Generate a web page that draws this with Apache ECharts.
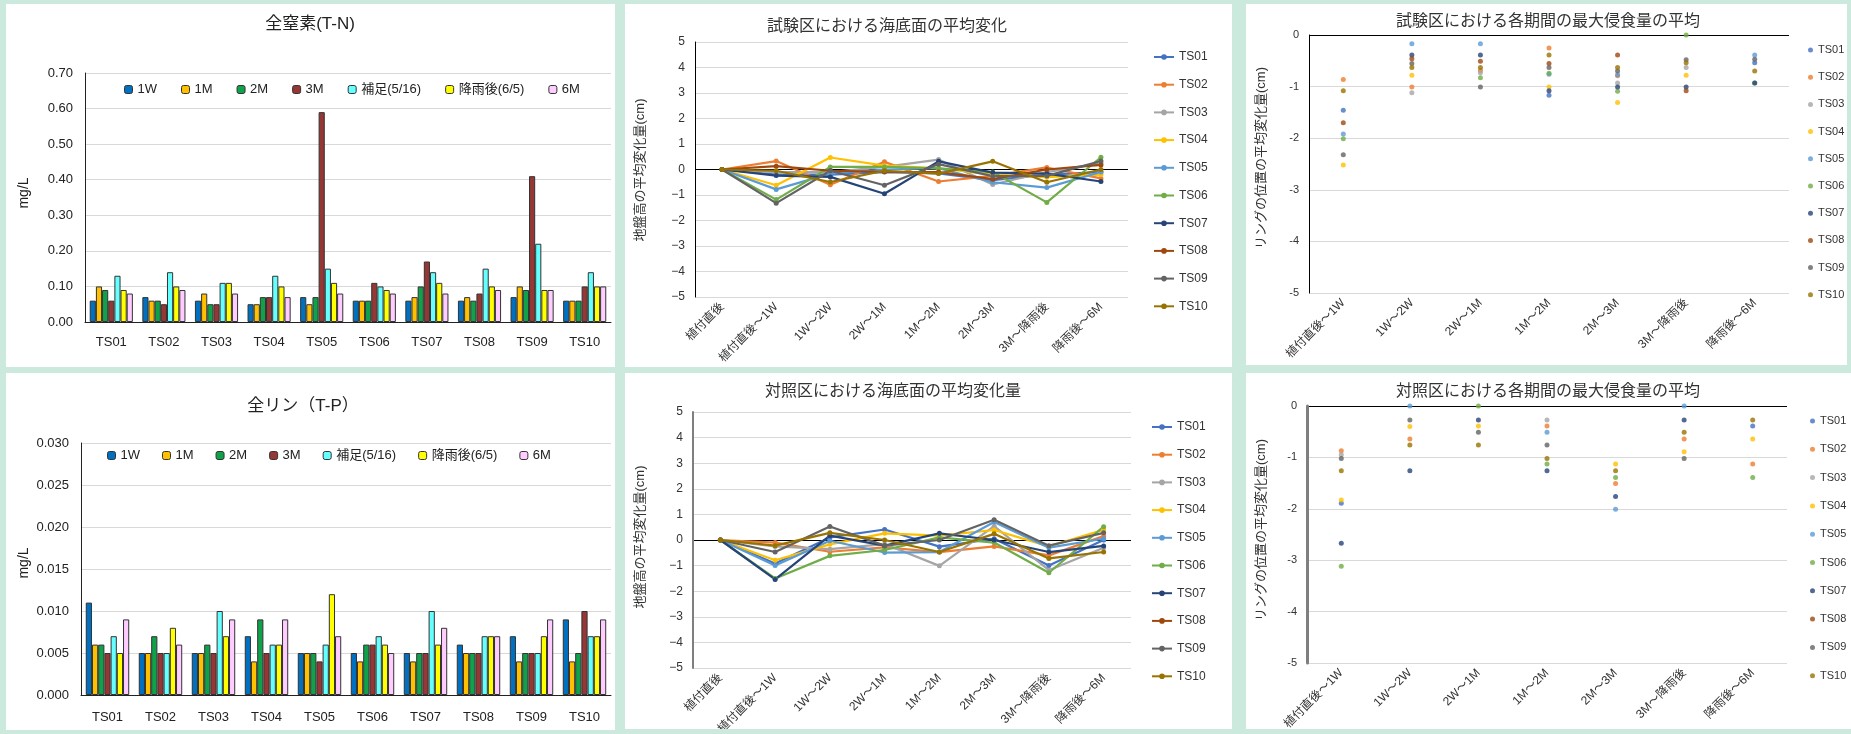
<!DOCTYPE html>
<html>
<head>
<meta charset="utf-8">
<script src="https://cdn.jsdelivr.net/npm/echarts@6/dist/echarts.min.js"></script>
<style>
html, body { margin: 0; padding: 0; width: 1851px; height: 734px; overflow: hidden; background: #cbeadd; }
.panel { position: absolute; background: #ffffff; }
</style>
</head>
<body>
<div id="p1" class="panel" style="left:6px;top:4px;width:609px;height:363px"></div>
<div id="p2" class="panel" style="left:625px;top:4px;width:607px;height:363px"></div>
<div id="p3" class="panel" style="left:1246px;top:4px;width:601px;height:361px"></div>
<div id="p4" class="panel" style="left:6px;top:373px;width:609px;height:357px"></div>
<div id="p5" class="panel" style="left:625px;top:373px;width:607px;height:356px"></div>
<div id="p6" class="panel" style="left:1246px;top:373px;width:605px;height:356px"></div>
<script>
// ---- shared labels ----
const stations = ['TS01', 'TS02', 'TS03', 'TS04', 'TS05', 'TS06', 'TS07', 'TS08', 'TS09', 'TS10'];
const periods = ['1W', '1M', '2M', '3M', '補足(5/16)', '降雨後(6/5)', '6M'];
const levelCats = ['植付直後', '植付直後～1W', '1W～2W', '2W～1M', '1M～2M', '2M～3M', '3M～降雨後', '降雨後～6M'];
const erosionCats = ['植付直後～1W', '1W～2W', '2W～1M', '1M～2M', '2M～3M', '3M～降雨後', '降雨後～6M'];

// ---- total nitrogen (mg/L), one row per sampling period, columns TS01..TS10 ----
const tn1W   = [0.06, 0.07, 0.06, 0.05, 0.07, 0.06, 0.06, 0.06, 0.07, 0.06];
const tn1M   = [0.10, 0.06, 0.08, 0.05, 0.05, 0.06, 0.07, 0.07, 0.10, 0.06];
const tn2M   = [0.09, 0.06, 0.05, 0.07, 0.07, 0.06, 0.10, 0.06, 0.09, 0.06];
const tn3M   = [0.06, 0.05, 0.05, 0.07, 0.59, 0.11, 0.17, 0.08, 0.41, 0.10];
const tnSupp = [0.13, 0.14, 0.11, 0.13, 0.15, 0.10, 0.14, 0.15, 0.22, 0.14];
const tnRain = [0.09, 0.10, 0.11, 0.10, 0.11, 0.09, 0.11, 0.10, 0.09, 0.10];
const tn6M   = [0.08, 0.09, 0.08, 0.07, 0.08, 0.08, 0.08, 0.09, 0.09, 0.10];

// ---- total phosphorus (mg/L) ----
const tp1W   = [0.011, 0.005, 0.005, 0.007, 0.005, 0.005, 0.005, 0.006, 0.007, 0.009];
const tp1M   = [0.006, 0.005, 0.005, 0.004, 0.005, 0.004, 0.004, 0.005, 0.004, 0.004];
const tp2M   = [0.006, 0.007, 0.006, 0.009, 0.005, 0.006, 0.005, 0.005, 0.005, 0.005];
const tp3M   = [0.005, 0.005, 0.005, 0.005, 0.004, 0.006, 0.005, 0.005, 0.005, 0.010];
const tpSupp = [0.007, 0.005, 0.010, 0.006, 0.006, 0.007, 0.010, 0.007, 0.005, 0.007];
const tpRain = [0.005, 0.008, 0.007, 0.006, 0.012, 0.006, 0.006, 0.007, 0.007, 0.007];
const tp6M   = [0.009, 0.006, 0.009, 0.009, 0.007, 0.005, 0.008, 0.007, 0.009, 0.009];

// ---- mean seabed level change (cm), rows TS01..TS10 ----
const levelTest = [
  [0, -0.20, -0.20, -0.10, -0.15, -0.42, -0.20, -0.10],
  [0,  0.33, -0.60,  0.30, -0.47, -0.25,  0.08, -0.35],
  [0, -0.10, -0.10,  0.10,  0.39, -0.59, -0.10,  0.25],
  [0, -0.62,  0.47,  0.15,  0.05, -0.20, -0.30, -0.20],
  [0, -0.78, -0.16,  0.00,  0.05, -0.50, -0.71, -0.10],
  [0, -1.18,  0.10,  0.10,  0.05, -0.10, -1.29,  0.48],
  [0, -0.24, -0.29, -0.95,  0.32, -0.12, -0.16, -0.47],
  [0,  0.13, -0.05, -0.09, -0.10, -0.38,  0.00,  0.18],
  [0, -1.32, -0.05, -0.62,  0.21, -0.26, -0.25,  0.33],
  [0, -0.05, -0.49, -0.05, -0.16,  0.32, -0.50,  0.00]
];
const levelControl = [
  [0, -0.92,  0.10,  0.41, -0.26,  0.05, -1.00,  0.00],
  [0, -0.10, -0.46, -0.29, -0.47, -0.25, -0.60,  0.15],
  [0, -0.25, -0.36, -0.16, -1.01,  0.54, -1.18, -0.30],
  [0, -0.79, -0.17,  0.26,  0.17,  0.39, -0.25,  0.40],
  [0, -1.00, -0.03, -0.49, -0.47,  0.70, -0.30,  0.05],
  [0, -1.50, -0.62, -0.39,  0.10, -0.10, -1.28,  0.52],
  [0, -1.54,  0.17, -0.22,  0.26,  0.00, -0.47, -0.23],
  [null, null, null, null, null, null, null, null],
  [0, -0.47,  0.53, -0.22,  0.00,  0.79, -0.22,  0.28],
  [0, -0.22,  0.28,  0.00, -0.47,  0.24, -0.72, -0.47]
];

// ---- mean maximum erosion per period (cm), rows TS01..TS10 ----
const erosionTest = [
  [-1.46, null,  null,  -1.17, null,  null,  -0.54],
  [-0.86, -1.01, -0.69, -0.25, -0.79, null,  null],
  [null,  -1.12, -0.73, null,  -0.93, -0.63, null],
  [-2.52, -0.78, null,  -1.01, -1.31, -0.78, null],
  [-1.92, -0.17, -0.17, -0.76, -0.77, null,  -0.39],
  [-2.01, null,  -0.83, -0.74, -1.09, 0,     -0.93],
  [null,  -0.39, -0.39, -1.08, -1.01, -1.01, -0.93],
  [-1.70, -0.46, -0.51, -0.55, -0.39, -1.08, null],
  [-2.32, -0.55, -1.01, -0.63, -0.70, -0.48, -0.47],
  [-1.08, -0.63, -0.63, -0.39, -0.63, -0.54, -0.70]
];
const erosionControl = [
  [-1.89, null,  null,  null,  null,  null,  -0.39],
  [-0.87, -0.64, null,  -0.39, -1.51, -0.64, -1.13],
  [-0.95, null,  null,  -0.27, null,  null,  null],
  [-1.83, -0.40, -0.39, null,  -1.13, -0.89, -0.64],
  [null,  0,     null,  -0.51, -2.01, 0,     null],
  [-3.12, null,  0,     -1.13, -1.39, null,  -1.39],
  [-2.67, -1.26, -0.27, -1.26, -1.76, -0.27, null],
  [null,  null,  null,  null,  null,  null,  null],
  [-1.02, -0.27, -0.51, -0.76, null,  -1.02, null],
  [-1.26, -0.76, -0.76, -1.02, -1.26, -0.51, -0.27]
];

// ---- styling ----
const FONT = "'Liberation Sans', 'Noto Sans CJK JP', sans-serif";
const barColors = ['#0070C0', '#FFC000', '#0FA24A', '#953735', '#66FFFF', '#FFFF00', '#FFCCFF'];
const stationColors = ['#4472C4', '#ED7D31', '#A5A5A5', '#FFC000', '#5B9BD5', '#70AD47', '#264478', '#9E480E', '#636363', '#997300'];
const GRID_GREY = '#d9d9d9';

function headText(text, x, y, size, color) {
  return { type: 'text', x: x, y: y, silent: true,
    style: { text: text, textAlign: 'center', textVerticalAlign: 'middle',
      font: 'normal ' + size + 'px ' + FONT, fill: color } };
}
function sideText(text, x, y, size, color) {
  return { type: 'text', x: x, y: y, rotation: Math.PI / 2, silent: true,
    style: { text: text, textAlign: 'center', textVerticalAlign: 'middle',
      font: 'normal ' + size + 'px ' + FONT, fill: color } };
}
// split line colours, with the zero line drawn dark
function splitColors(count, zeroIndex) {
  const arr = [];
  for (let i = 0; i < count; i++) arr.push(i === zeroIndex ? '#000000' : GRID_GREY);
  return arr;
}
const minusSign = v => String(v).replace('-', '−');

function barOption(cfg) {
  return {
    animation: false,
    textStyle: { fontFamily: FONT },
    graphic: [headText(cfg.title, cfg.titleX, cfg.titleY, 17, '#222'),
              sideText('mg/L', cfg.nameX, cfg.nameY, 14, '#222')],
    legend: {
      data: periods, left: cfg.legendLeft, top: cfg.legendTop, padding: 0,
      itemWidth: 8, itemHeight: 8, itemGap: cfg.legendGap,
      itemStyle: { borderColor: '#333', borderWidth: 1 },
      textStyle: { fontSize: 13, color: '#222', fontFamily: FONT }
    },
    grid: Object.assign({ outerBoundsMode: 'none', containLabel: false }, cfg.grid),
    xAxis: {
      type: 'category', data: stations,
      axisLine: { lineStyle: { color: '#222', width: 1 } },
      axisTick: { show: false },
      axisLabel: { fontSize: 13, color: '#222', margin: cfg.xMargin, fontFamily: FONT }
    },
    yAxis: {
      type: 'value', min: 0, max: cfg.max, interval: cfg.step,
      axisLine: { show: true, lineStyle: { color: '#222', width: 1 } },
      axisTick: { show: false },
      axisLabel: { fontSize: 13, color: '#222', margin: 12, fontFamily: FONT,
        formatter: v => v.toFixed(cfg.digits) },
      splitLine: { lineStyle: { color: GRID_GREY } }
    },
    series: cfg.values.map((vals, i) => ({
      name: periods[i], type: 'bar', data: vals,
      barGap: '0%', barCategoryGap: '18%',
      itemStyle: { color: barColors[i], borderColor: '#333', borderWidth: 1 }
    }))
  };
}

function lineOption(cfg) {
  return {
    animation: false,
    textStyle: { fontFamily: FONT },
    graphic: [headText(cfg.title, cfg.titleX, cfg.titleY, 16, '#333'),
              sideText('地盤高の平均変化量(cm)', cfg.nameX, cfg.nameY, 13, '#333')],
    legend: {
      data: stations, orient: 'vertical', left: cfg.legendLeft, top: cfg.legendTop, padding: 0,
      itemWidth: 20, itemHeight: 7, itemGap: cfg.legendGap,
      textStyle: { fontSize: 12, color: '#333', lineHeight: 14, fontFamily: FONT }
    },
    grid: Object.assign({ outerBoundsMode: 'none', containLabel: false }, cfg.grid),
    xAxis: {
      type: 'category', data: levelCats, boundaryGap: true,
      axisLine: { show: false, onZero: false },
      axisTick: { show: false },
      axisLabel: { rotate: 45, interval: 0, fontSize: 12, color: '#333', margin: 8, fontFamily: FONT }
    },
    yAxis: {
      type: 'value', min: -5, max: 5, interval: 1,
      axisLine: { show: true, lineStyle: { color: cfg.axisColor, width: cfg.axisWidth } },
      axisTick: { show: false },
      axisLabel: { fontSize: 12, color: '#333', margin: 10, formatter: minusSign, fontFamily: FONT },
      splitLine: { lineStyle: { color: splitColors(11, 5) } }
    },
    series: cfg.rows.map((row, i) => ({
      name: stations[i], type: 'line', data: row,
      symbol: 'circle', symbolSize: 5,
      lineStyle: { width: 2.2, color: stationColors[i] },
      itemStyle: { color: stationColors[i] }
    }))
  };
}

function scatterOption(cfg) {
  return {
    animation: false,
    textStyle: { fontFamily: FONT },
    graphic: [headText(cfg.title, cfg.titleX, cfg.titleY, 16, '#333'),
              sideText('リングの位置の平均変化量(cm)', cfg.nameX, cfg.nameY, 13, '#333')],
    legend: {
      data: stations, orient: 'vertical', left: cfg.legendLeft, top: cfg.legendTop, padding: 0,
      icon: 'circle', itemWidth: 5, itemHeight: 5, itemGap: cfg.legendGap,
      textStyle: { fontSize: 11, color: '#333', lineHeight: 14, fontFamily: FONT }
    },
    grid: Object.assign({ outerBoundsMode: 'none', containLabel: false }, cfg.grid),
    xAxis: {
      type: 'category', data: erosionCats, boundaryGap: true,
      axisLine: { show: false, onZero: false },
      axisTick: { show: false },
      axisLabel: { rotate: 45, interval: 0, fontSize: 12, color: '#333', margin: 8, fontFamily: FONT }
    },
    yAxis: {
      type: 'value', min: -5, max: 0, interval: 1,
      axisLine: { show: true, lineStyle: { color: cfg.axisColor, width: cfg.axisWidth } },
      axisTick: { show: false },
      axisLabel: { fontSize: 11, color: '#333', margin: 10, fontFamily: FONT },
      splitLine: { lineStyle: { color: splitColors(6, 5) } }
    },
    series: cfg.rows.map((row, i) => ({
      name: stations[i], type: 'scatter', data: row,
      symbol: 'circle', symbolSize: 5,
      itemStyle: { color: stationColors[i] }
    }))
  };
}

function mount(id, option) {
  const chart = echarts.init(document.getElementById(id), null, { renderer: 'canvas' });
  chart.setOption(option);
}

mount('p1', barOption({
  title: '全窒素(T-N)', titleX: 304, titleY: 20, nameX: 18, nameY: 189,
  values: [tn1W, tn1M, tn2M, tn3M, tnSupp, tnRain, tn6M],
  max: 0.7, step: 0.1, digits: 2,
  grid: { left: 79, right: 4, top: 69, bottom: 45 },
  legendLeft: 118, legendTop: 79, legendGap: 24, xMargin: 14
}));

mount('p4', barOption({
  title: '全リン（T-P）', titleX: 297, titleY: 33, nameX: 18, nameY: 190,
  values: [tp1W, tp1M, tp2M, tp3M, tpSupp, tpRain, tp6M],
  max: 0.03, step: 0.005, digits: 3,
  grid: { left: 75, right: 4, top: 70, bottom: 35 },
  legendLeft: 101, legendTop: 76, legendGap: 22, xMargin: 16
}));

mount('p2', lineOption({
  title: '試験区における海底面の平均変化', titleX: 262, titleY: 23, nameX: 15, nameY: 166,
  rows: levelTest, axisColor: '#000000', axisWidth: 1,
  grid: { left: 70, right: 104, top: 38, bottom: 70 },
  legendLeft: 528, legendTop: 46, legendGap: 13.7
}));

mount('p5', lineOption({
  title: '対照区における海底面の平均変化量', titleX: 268, titleY: 19, nameX: 15, nameY: 164,
  rows: levelControl, axisColor: '#7f7f7f', axisWidth: 2,
  grid: { left: 68, right: 101, top: 39, bottom: 61 },
  legendLeft: 526, legendTop: 47, legendGap: 13.7
}));

mount('p3', scatterOption({
  title: '試験区における各期間の最大侵食量の平均', titleX: 302, titleY: 18, nameX: 15, nameY: 154,
  rows: erosionTest, axisColor: '#000000', axisWidth: 1,
  grid: { left: 63, right: 58, top: 31, bottom: 72 },
  legendLeft: 562, legendTop: 39, legendGap: 13.2
}));

mount('p6', scatterOption({
  title: '対照区における各期間の最大侵食量の平均', titleX: 302, titleY: 19, nameX: 15, nameY: 157,
  rows: erosionControl, axisColor: '#7f7f7f', axisWidth: 3,
  grid: { left: 61, right: 64, top: 33, bottom: 66 },
  legendLeft: 564, legendTop: 41, legendGap: 14.3
}));
</script>
</body>
</html>
